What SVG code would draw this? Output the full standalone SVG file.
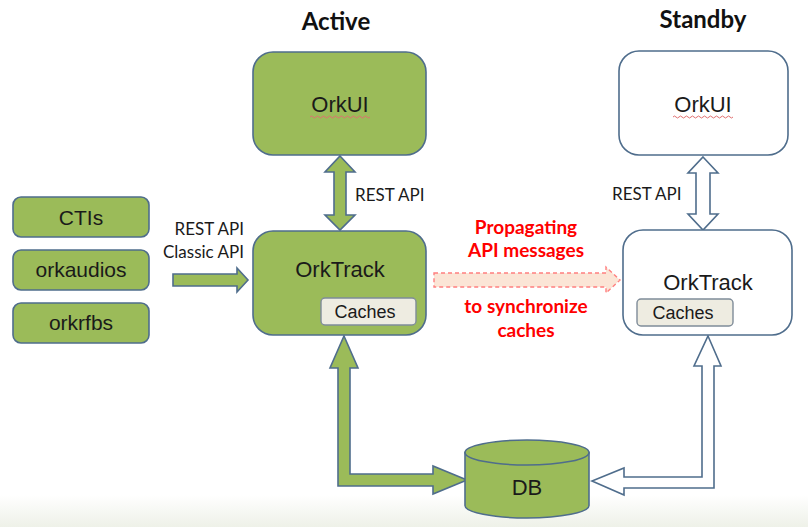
<svg xmlns="http://www.w3.org/2000/svg" width="808" height="527" viewBox="0 0 808 527">
<defs>
<linearGradient id="bg" x1="0" y1="0" x2="0" y2="1">
<stop offset="0" stop-color="#ffffff"/>
<stop offset="1" stop-color="#eef1e8"/>
</linearGradient>
<style>
.g{fill:#9bbb59;stroke:#4f6d8c;stroke-width:1.6}
.w{fill:#ffffff;stroke:#4f6d8c;stroke-width:1.6}
.c{fill:#eeece1;stroke:#7f8c99;stroke-width:1.4}
.t{font-family:"Liberation Sans",Arial,sans-serif;fill:#1a1a1a;text-anchor:middle}
.k{font-family:Lato,"Liberation Sans",sans-serif;fill:#1a1a1a}
.h{font-family:Lato,"Liberation Sans",sans-serif;font-weight:bold;font-size:24px;fill:#111;text-anchor:middle}
.r{font-family:Lato,"Liberation Sans",sans-serif;font-weight:bold;font-size:19px;fill:#ff0000;text-anchor:middle}
.sq{fill:none;stroke:#e07070;stroke-width:1}
</style>
</defs>
<rect x="0" y="0" width="808" height="527" fill="#ffffff"/>
<rect x="0" y="495" width="808" height="32" fill="url(#bg)"/>

<text class="h" x="336" y="30">Active</text>
<text class="h" x="703" y="28">Standby</text>

<g id="connectors">
<polygon class="g" points="340,156 355,172 346,172 346,215 355,215 340,230 325,215 334,215 334,172 325,172"/>
<polygon class="w" points="703,157 718,173 710,173 710,214 718,214 703,230 688,214 696,214 696,173 688,173"/>
<polygon class="g" points="173,274 237,274 237,268 248,280 237,292 237,286 173,286"/>
<polygon points="434,273 606,273 606,267 620,280 606,293 606,287 434,287" fill="#fbe5d6" stroke="#ff7f7f" stroke-width="1.4" stroke-dasharray="4,3"/>
<polygon class="g" points="344,336 358,368 350,368 350,474 433,474 433,466 467,480 433,494 433,486 338,486 338,368 330,368"/>
<polygon class="w" points="708,336 721,366 714,366 714,488 624,488 624,495 592,481 624,468 624,477 702,477 702,366 694,366"/>
<text class="k" x="355" y="201" font-size="17">REST API</text>
<text class="k" x="612" y="200" font-size="17">REST API</text>
<text class="k" x="244" y="235" font-size="17" text-anchor="end">REST API</text>
<text class="k" x="244" y="258" font-size="17" text-anchor="end">Classic API</text>
<text class="r" x="526" y="234">Propagating</text>
<text class="r" x="526" y="257">API messages</text>
<text class="r" x="526" y="313">to synchronize</text>
<text class="r" x="526" y="337">caches</text>
</g>

<g id="cti">
<rect class="g" x="13" y="197" width="136" height="40" rx="8"/>
<text class="t" x="81" y="225" font-size="21">CTIs</text>
</g>
<g id="orkaudios">
<rect class="g" x="13" y="250" width="136" height="40" rx="8"/>
<text class="t" x="81" y="277" font-size="21">orkaudios</text>
</g>
<g id="orkrfbs">
<rect class="g" x="13" y="303" width="136" height="40" rx="8"/>
<text class="t" x="81" y="330" font-size="21">orkrfbs</text>
</g>

<g id="active-orkui">
<rect class="g" x="253" y="52" width="173" height="103" rx="20"/>
<text class="t" x="340" y="112" font-size="22">OrkUI</text>
<path class="sq" d="M310,117 q1.5,-2 3,0 t3,0 t3,0 t3,0 t3,0 t3,0 t3,0 t3,0 t3,0 t3,0 t3,0 t3,0 t3,0 t3,0 t3,0 t3,0 t3,0 t3,0 t3,0 t3,0"/>
</g>
<g id="active-orktrack">
<rect class="g" x="253" y="231" width="173" height="104" rx="20"/>
<text class="t" x="340" y="277" font-size="22">OrkTrack</text>
<rect class="c" x="321" y="298" width="95" height="27" rx="4"/>
<text class="t" x="365" y="318" font-size="18">Caches</text>
</g>

<g id="standby-orkui">
<rect class="w" x="619" y="51" width="169" height="104" rx="20"/>
<text class="t" x="703" y="112" font-size="22">OrkUI</text>
<path class="sq" d="M673,117 q1.5,-2 3,0 t3,0 t3,0 t3,0 t3,0 t3,0 t3,0 t3,0 t3,0 t3,0 t3,0 t3,0 t3,0 t3,0 t3,0 t3,0 t3,0 t3,0 t3,0 t3,0"/>
</g>
<g id="standby-orktrack">
<rect class="w" x="623" y="230" width="169" height="105" rx="20"/>
<text class="t" x="708" y="290" font-size="22">OrkTrack</text>
<rect class="c" x="637" y="299" width="96" height="27" rx="4"/>
<text class="t" x="683" y="319" font-size="18">Caches</text>
</g>

<g id="db">
<path class="g" d="M465,452.5 L465,505.5 A62,12.5 0 0 0 589,505.5 L589,452.5 Z"/>
<ellipse class="g" cx="527" cy="452.5" rx="62" ry="12.5"/>
<text class="t" x="527" y="495" font-size="22">DB</text>
</g>
</svg>
